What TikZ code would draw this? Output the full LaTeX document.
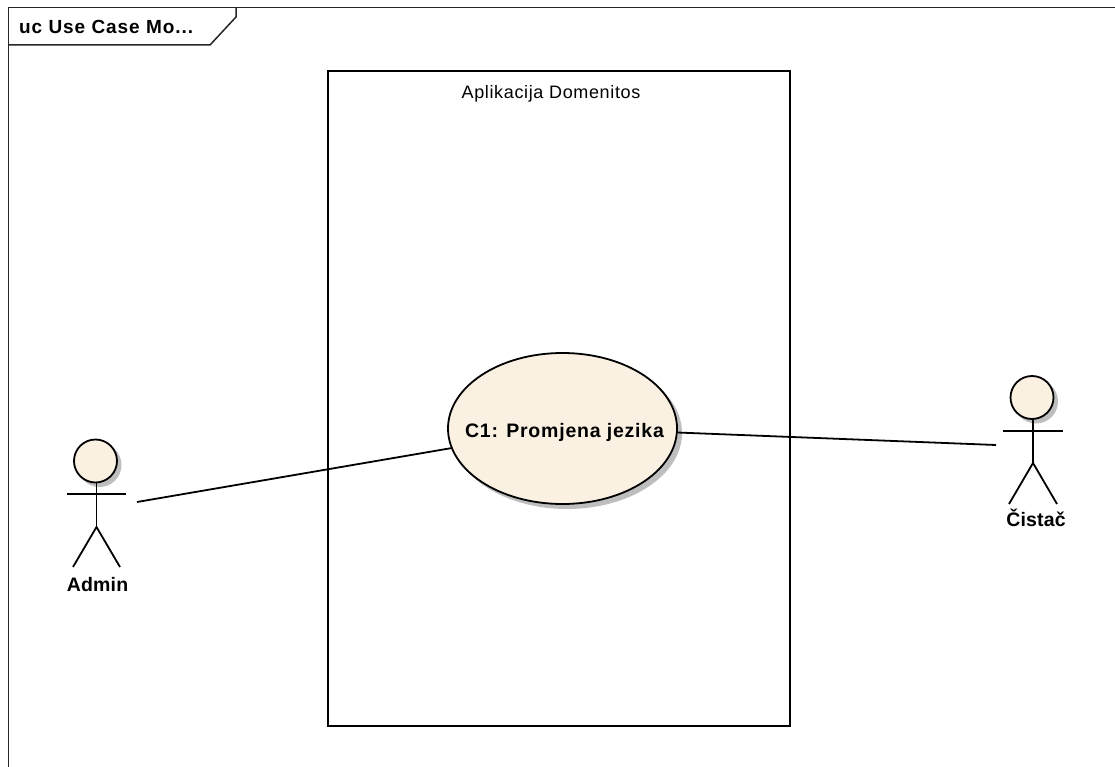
\documentclass[tikz,border=0pt]{standalone}
\usepackage{fontspec}
\setmainfont{Liberation Sans}
\usetikzlibrary{shapes.geometric}
\definecolor{ucfill}{RGB}{251,241,227}
\definecolor{ucshadow}{RGB}{190,190,190}
\tikzset{
  x=1pt,y=-1pt,
  ln/.style={draw=black,line width=1.8pt},
  frameline/.style={draw=black!85,line width=1.5pt},
  head/.style={circle,draw=black,line width=1.8pt,fill=ucfill,minimum size=43pt,inner sep=0pt},
  headshadow/.style={circle,fill=ucshadow,minimum size=44pt,inner sep=0pt},
  lbl/.style={font=\fontsize{19.5}{21}\selectfont\bfseries,inner sep=0pt,anchor=base},
  usecase/.style={ellipse,draw=black,line width=1.8pt,fill=ucfill,minimum width=229pt,minimum height=151pt,inner sep=0pt},
  ucshad/.style={ellipse,fill=ucshadow,minimum width=230pt,minimum height=152pt,inner sep=0pt},
  bound/.style={rectangle,draw=black,line width=1.8pt,minimum width=462pt,minimum height=655pt,inner sep=0pt}
}
\begin{document}
\begin{tikzpicture}
\useasboundingbox (0,0) rectangle (1115,767);
\fill[white] (0,0) rectangle (1115,767);
% frame
\draw[frameline] (8.5,767) -- (8.5,7.5) -- (1115,7.5);
\draw[frameline] (8.5,45) -- (210,45) -- (236,17) -- (236,7.5);
\node[font=\fontsize{19}{21}\selectfont\bfseries,anchor=base west,inner sep=0pt] (frametitle) at (19,34) {\addfontfeature{LetterSpace=5}uc Use Case Mo...};
% boundary
\node[bound] (sys) at (559,398.5) {};
\node[font=\fontsize{18}{21}\selectfont,anchor=base,inner sep=0pt] (systitle) at (551,99) {\addfontfeature{LetterSpace=3.6}Aplikacija Domenitos};
% use case
\node[ucshad] (ucs) at (567,433) {};
\node[usecase] (uc) at (562.5,428.5) {};
\node[lbl] (uctext) at (564.5,437.5) {\addfontfeature{LetterSpace=4}C1: Promjena jezika};
% Admin
\node[headshadow] (as) at (99.5,465) {};
\node[head] (ah) at (95.5,461) {};
\coordinate (ahip) at (96.5,527);
\draw[ln] (ah.south -| ahip) -- (ahip);
\draw[ln] (67,494) -- (126,494);
\draw[ln] (73,567) -- (ahip) -- (120,567);
\node[lbl] (admin) at (97.5,591) {\addfontfeature{LetterSpace=1}Admin};
\coordinate (aend) at (137,502);
% Cistac
\node[headshadow] (cs) at (1036,401.5) {};
\node[head] (ch) at (1032,397.5) {};
\coordinate (chip) at (1033,463);
\draw[ln] (ch.south -| chip) -- (chip);
\draw[ln] (1003,431) -- (1063,431);
\draw[ln] (1009,504) -- (chip) -- (1057,504);
\node[lbl] (cistac) at (1036,526) {\addfontfeature{LetterSpace=1}Čistač};
\coordinate (cend) at (996,445);
% connectors
\draw[ln,shorten >=-1pt] (aend) -- (uc.190);
\draw[ln] (uc.-2) -- (cend);
\end{tikzpicture}
\end{document}
